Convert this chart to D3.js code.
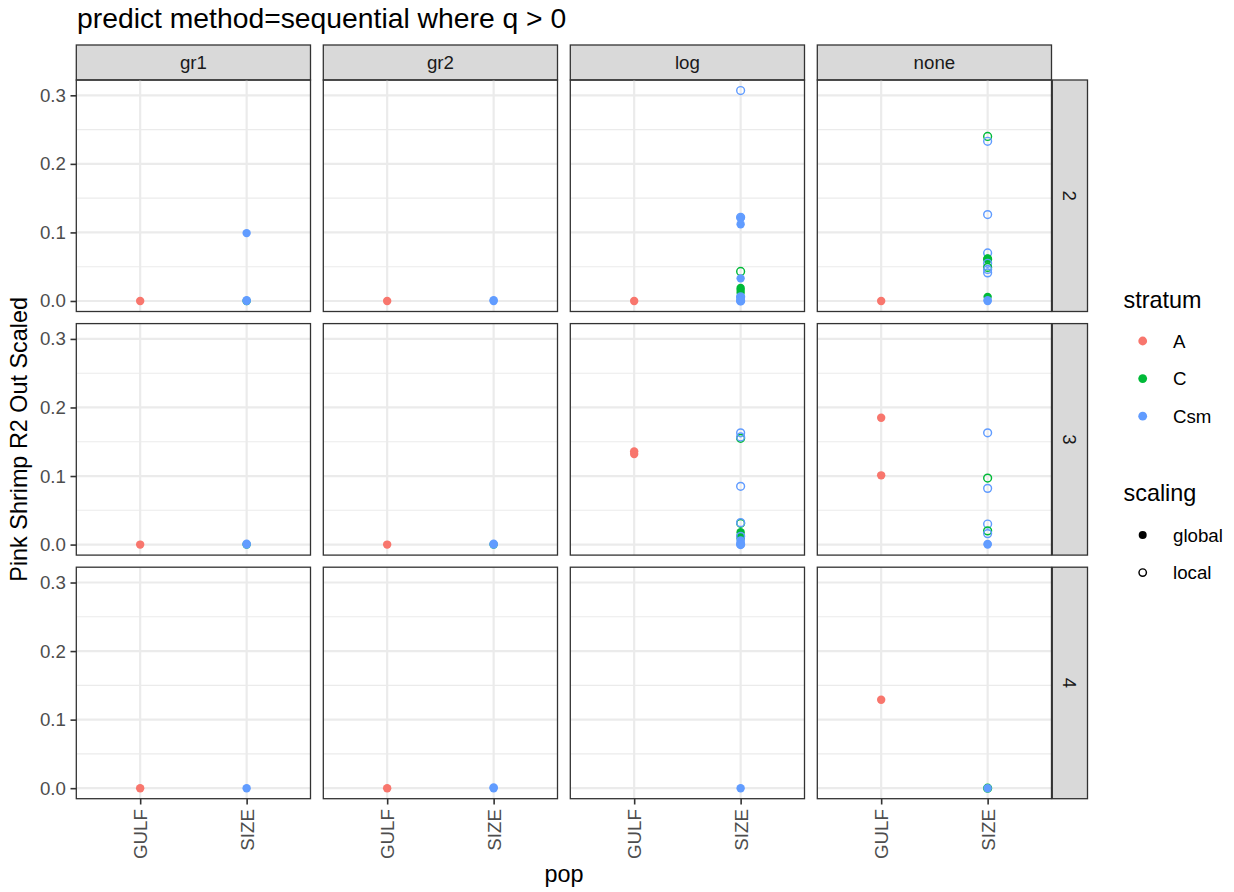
<!DOCTYPE html>
<html>
<head>
<meta charset="utf-8">
<script src="https://cdn.jsdelivr.net/npm/d3@7"></script>
<style>
  html, body { margin: 0; padding: 0; background: #ffffff; }
  svg { display: block; font-family: "Liberation Sans", Arial, sans-serif; }
</style>
</head>
<body>
<svg id="chart" width="1234" height="892"></svg>
<script>
// ---------------- data ----------------
const chartTitle = "predict method=sequential where q > 0";
const xTitle = "pop";
const yTitle = "Pink Shrimp R2 Out Scaled";
const methods = ["gr1", "gr2", "log", "none"];          // facet columns
const facetRows = ["2", "3", "4"];                       // facet rows
const popLevels = ["GULF", "SIZE"];                      // x categories
const strata = ["A", "C", "Csm"];
const strataColors = ["#F8766D", "#00BA38", "#619CFF"];
const scalings = ["global", "local"];
const yTicks = [0, 0.1, 0.2, 0.3];
const yMinor = [0.05, 0.15, 0.25];
const yTickLabels = ["0.0", "0.1", "0.2", "0.3"];

// each point: [row, method, pop, stratum, scaling, value]
const points = [
  // row 2
  ["2","gr1","GULF","A","global",0],
  ["2","gr1","SIZE","C","global",0],
  ["2","gr1","SIZE","Csm","global",0],
  ["2","gr1","SIZE","Csm","global",0.0012],
  ["2","gr1","SIZE","Csm","global",0.099],
  ["2","gr2","GULF","A","global",0],
  ["2","gr2","SIZE","Csm","global",0],
  ["2","gr2","SIZE","Csm","global",0.0012],
  ["2","log","GULF","A","global",0],
  ["2","log","SIZE","Csm","local",0.307],
  ["2","log","SIZE","Csm","local",0.122],
  ["2","log","SIZE","Csm","global",0.121],
  ["2","log","SIZE","Csm","global",0.112],
  ["2","log","SIZE","C","local",0.043],
  ["2","log","SIZE","Csm","global",0.033],
  ["2","log","SIZE","C","global",0.019],
  ["2","log","SIZE","C","global",0.016],
  ["2","log","SIZE","C","global",0.012],
  ["2","log","SIZE","Csm","local",0.006],
  ["2","log","SIZE","Csm","global",0.005],
  ["2","log","SIZE","Csm","global",0.002],
  ["2","log","SIZE","Csm","local",0],
  ["2","log","SIZE","Csm","global",0],
  ["2","none","GULF","A","global",0],
  ["2","none","SIZE","C","local",0.240],
  ["2","none","SIZE","Csm","local",0.233],
  ["2","none","SIZE","Csm","local",0.126],
  ["2","none","SIZE","Csm","local",0.070],
  ["2","none","SIZE","C","local",0.061],
  ["2","none","SIZE","C","global",0.062],
  ["2","none","SIZE","Csm","local",0.055],
  ["2","none","SIZE","C","local",0.049],
  ["2","none","SIZE","Csm","local",0.046],
  ["2","none","SIZE","Csm","local",0.041],
  ["2","none","SIZE","C","global",0.006],
  ["2","none","SIZE","Csm","global",0.001],
  ["2","none","SIZE","Csm","global",0],
  // row 3
  ["3","gr1","GULF","A","global",0],
  ["3","gr1","SIZE","C","global",0],
  ["3","gr1","SIZE","Csm","global",0],
  ["3","gr1","SIZE","Csm","global",0.0012],
  ["3","gr2","GULF","A","global",0],
  ["3","gr2","SIZE","C","global",0],
  ["3","gr2","SIZE","Csm","global",0],
  ["3","gr2","SIZE","Csm","global",0.0012],
  ["3","log","GULF","A","global",0.136],
  ["3","log","GULF","A","global",0.132],
  ["3","log","SIZE","C","local",0.155],
  ["3","log","SIZE","Csm","local",0.163],
  ["3","log","SIZE","Csm","local",0.157],
  ["3","log","SIZE","Csm","local",0.085],
  ["3","log","SIZE","C","local",0.031],
  ["3","log","SIZE","Csm","local",0.032],
  ["3","log","SIZE","C","global",0.018],
  ["3","log","SIZE","C","global",0.013],
  ["3","log","SIZE","C","global",0.009],
  ["3","log","SIZE","Csm","local",0.012],
  ["3","log","SIZE","Csm","global",0.006],
  ["3","log","SIZE","Csm","global",0.003],
  ["3","log","SIZE","Csm","local",0],
  ["3","log","SIZE","Csm","global",0],
  ["3","none","GULF","A","global",0.185],
  ["3","none","GULF","A","global",0.101],
  ["3","none","SIZE","Csm","local",0.163],
  ["3","none","SIZE","C","local",0.097],
  ["3","none","SIZE","Csm","local",0.082],
  ["3","none","SIZE","Csm","local",0.030],
  ["3","none","SIZE","C","local",0.020],
  ["3","none","SIZE","Csm","local",0.016],
  ["3","none","SIZE","Csm","global",0.001],
  ["3","none","SIZE","Csm","global",0],
  // row 4
  ["4","gr1","GULF","A","global",0],
  ["4","gr1","SIZE","Csm","global",0],
  ["4","gr2","GULF","A","global",0],
  ["4","gr2","SIZE","Csm","global",0],
  ["4","gr2","SIZE","Csm","global",0.0012],
  ["4","log","SIZE","Csm","global",0],
  ["4","none","GULF","A","global",0.129],
  ["4","none","SIZE","C","local",0],
  ["4","none","SIZE","Csm","global",0]
];

// ---------------- layout ----------------
const svg = d3.select("#chart");
const font = '"Liberation Sans", Arial, sans-serif';
const panelLeft0 = 76.3, colStep = 247.0, panelW = 234.2;
const panelTop0 = 80, rowStep = 243.6, panelH = 231.5;
const stripH = 35, stripW = 36;
const tickLen = 5.8;

const color = d3.scaleOrdinal().domain(strata).range(strataColors);
const yDomain = [-0.01535, 0.32235];

svg.append("rect").attr("width", 1234).attr("height", 892).attr("fill", "#ffffff");

// title
svg.append("text").attr("x", 77).attr("y", 28)
  .attr("font-size", 28.3).attr("fill", "#000000").text(chartTitle);

methods.forEach((m, ci) => {
  const x0 = panelLeft0 + ci * colStep;
  const x = d3.scalePoint().domain(popLevels).range([x0, x0 + panelW]).padding(0.6);

  // top strip
  svg.append("rect").attr("x", x0).attr("y", panelTop0 - stripH)
    .attr("width", panelW).attr("height", stripH)
    .attr("fill", "#D9D9D9").attr("stroke", "#333333").attr("stroke-width", 1.3);
  svg.append("text").attr("x", x0 + panelW / 2).attr("y", panelTop0 - stripH / 2)
    .attr("text-anchor", "middle").attr("dominant-baseline", "central")
    .attr("font-size", 18.7).attr("fill", "#1A1A1A").text(m);

  facetRows.forEach((r, ri) => {
    const y0 = panelTop0 + ri * rowStep;
    const y = d3.scaleLinear().domain(yDomain).range([y0 + panelH, y0]);
    const g = svg.append("g");

    // minor grid
    g.selectAll(".minor").data(yMinor).enter().append("line")
      .attr("x1", x0).attr("x2", x0 + panelW)
      .attr("y1", d => y(d)).attr("y2", d => y(d))
      .attr("stroke", "#EBEBEB").attr("stroke-width", 1.1);
    // major grid
    g.selectAll(".majory").data(yTicks).enter().append("line")
      .attr("x1", x0).attr("x2", x0 + panelW)
      .attr("y1", d => y(d)).attr("y2", d => y(d))
      .attr("stroke", "#EBEBEB").attr("stroke-width", 2.2);
    g.selectAll(".majorx").data(popLevels).enter().append("line")
      .attr("x1", d => x(d)).attr("x2", d => x(d))
      .attr("y1", y0).attr("y2", y0 + panelH)
      .attr("stroke", "#EBEBEB").attr("stroke-width", 2.2);

    // points
    const pts = points.filter(p => p[0] === r && p[1] === m);
    g.selectAll(".pt").data(pts).enter().append("circle")
      .attr("cx", d => x(d[2]))
      .attr("cy", d => y(d[5]))
      .attr("r", d => d[4] === "global" ? 4.2 : 3.9)
      .attr("fill", d => d[4] === "global" ? color(d[3]) : "none")
      .attr("stroke", d => d[4] === "global" ? "none" : color(d[3]))
      .attr("stroke-width", 1.45);

    // panel border
    g.append("rect").attr("x", x0).attr("y", y0).attr("width", panelW).attr("height", panelH)
      .attr("fill", "none").attr("stroke", "#333333").attr("stroke-width", 1.3);

    // y axis on first column
    if (ci === 0) {
      const ax = svg.append("g").attr("transform", `translate(${x0},0)`)
        .call(d3.axisLeft(y).tickValues(yTicks).tickSize(tickLen).tickPadding(4.6)
          .tickFormat((d, i) => yTickLabels[i]));
      ax.select(".domain").remove();
      ax.selectAll(".tick line").attr("stroke", "#333333").attr("stroke-width", 1.6);
      ax.selectAll(".tick text").attr("font-size", 18.7).attr("fill", "#4D4D4D")
        .attr("font-family", font);
    }
    // right strips on last column
    if (ci === methods.length - 1) {
      svg.append("rect").attr("x", x0 + panelW + 0.8).attr("y", y0)
        .attr("width", stripW - 0.8).attr("height", panelH)
        .attr("fill", "#D9D9D9").attr("stroke", "#333333").attr("stroke-width", 1.3);
      const cx = x0 + panelW + stripW / 2 + 0.4, cy = y0 + panelH / 2;
      svg.append("text").attr("transform", `translate(${cx},${cy}) rotate(90)`)
        .attr("text-anchor", "middle").attr("dominant-baseline", "central")
        .attr("font-size", 18.7).attr("fill", "#1A1A1A").text(r);
    }
    // x axis on bottom row
    if (ri === facetRows.length - 1) {
      const ax = svg.append("g").attr("transform", `translate(0,${y0 + panelH})`)
        .call(d3.axisBottom(x).tickSize(tickLen).tickPadding(4.6));
      ax.select(".domain").remove();
      ax.selectAll(".tick line").attr("stroke", "#333333").attr("stroke-width", 1.6);
      ax.selectAll(".tick text")
        .attr("font-size", 18.7).attr("fill", "#4D4D4D").attr("font-family", font)
        .attr("transform", "rotate(-90)")
        .attr("text-anchor", "end").attr("dy", null)
        .attr("dominant-baseline", "central")
        .attr("x", -(tickLen + 4.6)).attr("y", 0);
    }
  });
});

// axis titles
const plotMidX = panelLeft0 + (colStep * (methods.length - 1) + panelW) / 2;
const plotMidY = panelTop0 + (rowStep * (facetRows.length - 1) + panelH) / 2;
svg.append("text").attr("x", plotMidX).attr("y", 882)
  .attr("text-anchor", "middle").attr("font-size", 23.4).attr("fill", "#000000").text(xTitle);
svg.append("text").attr("transform", `translate(27,${plotMidY}) rotate(-90)`)
  .attr("text-anchor", "middle").attr("font-size", 23.4).attr("fill", "#000000").text(yTitle);

// legends
const lg = svg.append("g").attr("font-family", font);
lg.append("text").attr("x", 1123.5).attr("y", 308).attr("font-size", 23.4).attr("fill", "#000000").text("stratum");
const keyStep = 37.6;
strata.forEach((s, i) => {
  const cy = 341 + i * keyStep;
  lg.append("circle").attr("cx", 1142.7).attr("cy", cy).attr("r", 4.4).attr("fill", color(s));
  lg.append("text").attr("x", 1173).attr("y", cy).attr("dominant-baseline", "central")
    .attr("font-size", 18.7).attr("fill", "#000000").text(s);
});
lg.append("text").attr("x", 1123.5).attr("y", 501).attr("font-size", 23.4).attr("fill", "#000000").text("scaling");
scalings.forEach((s, i) => {
  const cy = 535 + i * keyStep;
  lg.append("circle").attr("cx", 1142.7).attr("cy", cy)
    .attr("r", s === "global" ? 4.0 : 3.7)
    .attr("fill", s === "global" ? "#000000" : "none")
    .attr("stroke", s === "global" ? "none" : "#000000").attr("stroke-width", 1.45);
  lg.append("text").attr("x", 1173).attr("y", cy).attr("dominant-baseline", "central")
    .attr("font-size", 18.7).attr("fill", "#000000").text(s);
});
</script>
</body>
</html>
